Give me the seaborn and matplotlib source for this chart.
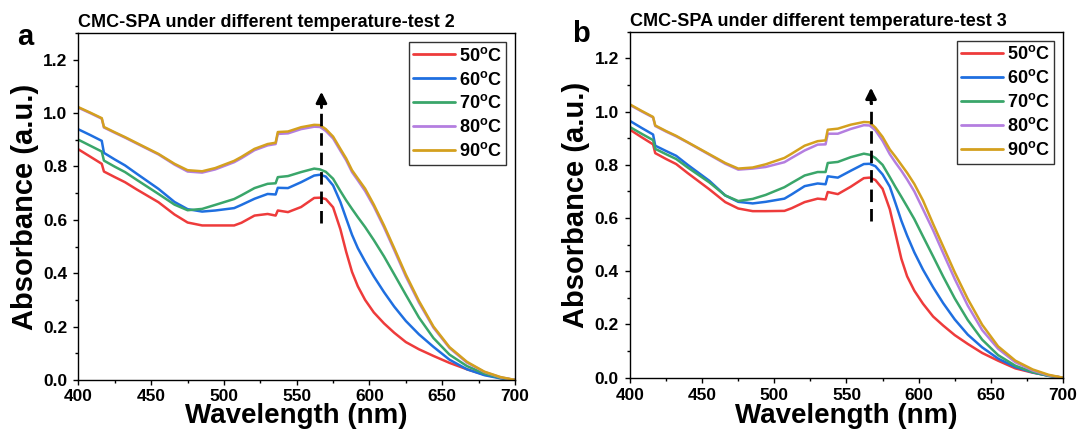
import numpy as np
import pandas as pd
import matplotlib
matplotlib.use("Agg")
import matplotlib.pyplot as plt
from matplotlib.ticker import MultipleLocator
import seaborn as sns

# ---------------- data ----------------
temps = ["50", "60", "70", "80", "90"]
colors = ["#EE3B3B", "#1F6FE0", "#3AA66A", "#B47EE0", "#D4A01E"]

wavelength = [400, 408, 416, 417.5, 425, 432, 440, 455, 466, 475, 485, 494, 507, 512, 521, 530, 535.5, 537,
              544, 553, 562, 566, 570, 575, 580, 584, 588, 592, 597, 603, 610, 617, 625, 634, 644, 655, 667,
              679, 690, 700]

# Panel a (test 2)
a50 = [.864, .837, .810, .781, .760, .741, .714, .666, .620, .590, .579, .579, .579, .589, .616, .622, .616,
       .635, .629, .648, .682, .683, .678, .647, .565, .480, .405, .351, .300, .253, .212, .177, .142, .115,
       .090, .064, .040, .020, .008, 0.0]
a60 = [.939, .918, .896, .851, .826, .804, .773, .716, .667, .640, .631, .635, .644, .656, .679, .697, .695,
       .720, .719, .741, .766, .769, .762, .729, .667, .605, .544, .494, .444, .388, .329, .275, .221, .171,
       .124, .076, .040, .018, .006, 0.0]
a70 = [.900, .878, .856, .822, .799, .779, .750, .697, .657, .636, .641, .656, .678, .692, .719, .735, .737,
       .760, .764, .779, .792, .789, .780, .754, .708, .673, .641, .610, .573, .524, .463, .396, .319, .234,
       .157, .095, .052, .024, .008, 0.0]
a80 = [1.020, 1.000, .979, .946, .926, .908, .886, .845, .807, .781, .777, .789, .816, .831, .861, .879, .884,
       .922, .924, .940, .949, .948, .933, .905, .859, .823, .779, .748, .708, .650, .572, .487, .388, .290,
       .196, .120, .065, .030, .010, 0.0]
a90 = [1.022, 1.002, .981, .948, .928, .910, .888, .847, .810, .786, .782, .794, .821, .836, .866, .884, .889,
       .929, .931, .947, .956, .955, .940, .912, .866, .830, .786, .755, .717, .657, .579, .494, .395, .296,
       .200, .123, .068, .031, .011, 0.0]

# Panel b (test 3)
b50 = [.932, .904, .877, .844, .822, .803, .769, .708, .660, .636, .626, .626, .627, .637, .660, .673, .670,
       .698, .690, .718, .750, .752, .743, .710, .633, .540, .447, .381, .327, .278, .230, .196, .160, .127,
       .093, .064, .035, .019, .008, 0.0]
b60 = [.965, .939, .914, .872, .852, .834, .800, .740, .685, .661, .655, .661, .673, .689, .720, .730, .727,
       .757, .752, .778, .803, .804, .795, .764, .718, .655, .590, .534, .471, .406, .340, .280, .219, .162,
       .114, .072, .040, .020, .007, 0.0]
b70 = [.942, .917, .893, .860, .840, .822, .790, .734, .685, .664, .672, .687, .716, .732, .760, .773, .773,
       .807, .811, .829, .842, .838, .826, .800, .754, .716, .680, .643, .596, .531, .456, .380, .298, .217,
       .143, .085, .045, .021, .007, 0.0]
b80 = [1.025, 1.001, .978, .946, .925, .907, .884, .838, .804, .782, .786, .792, .810, .826, .854, .876, .877,
       .917, .917, .935, .949, .948, .930, .890, .840, .808, .778, .745, .700, .633, .554, .468, .371, .271,
       .179, .109, .058, .027, .009, 0.0]
b90 = [1.027, 1.003, .980, .948, .927, .909, .885, .840, .807, .786, .790, .802, .826, .842, .872, .889, .892,
       .932, .936, .951, .961, .960, .940, .905, .858, .830, .800, .770, .728, .666, .578, .493, .396, .296,
       .199, .118, .064, .031, .011, 0.0]

titles = ["CMC-SPA under different temperature-test 2", "CMC-SPA under different temperature-test 3"]
letters = ["a", "b"]
xticks = [400, 450, 500, 550, 600, 650, 700]
yticks = [0.0, 0.2, 0.4, 0.6, 0.8, 1.0, 1.2]
arrow_x = 567
arrow_bottom = 0.59
arrow_tops = [1.08, 1.09]

# ---------------- style ----------------
sns.set_style("ticks")
plt.rcParams["font.family"] = ["Liberation Sans", "DejaVu Sans"]
plt.rcParams["font.weight"] = "bold"
plt.rcParams["text.color"] = "black"
plt.rcParams["axes.labelcolor"] = "black"
plt.rcParams["xtick.color"] = "black"
plt.rcParams["ytick.color"] = "black"
plt.rcParams["axes.edgecolor"] = "black"
plt.rcParams["mathtext.fontset"] = "custom"
plt.rcParams["mathtext.rm"] = "Liberation Sans:bold"
plt.rcParams["mathtext.bf"] = "Liberation Sans:bold"
plt.rcParams["mathtext.default"] = "bf"

labels = [t + r"$^{\mathbf{o}}$C" for t in temps]


def long_df(wl, series):
    rows = []
    for lab, ys in zip(labels, series):
        for w, y in zip(wl, ys):
            rows.append({"wl": w, "abs": y, "T": lab})
    return pd.DataFrame(rows)


fig = plt.figure(figsize=(10.78, 4.34), dpi=100)
axA = fig.add_axes([0.0728, 0.1245, 0.4049, 0.7994])
axB = fig.add_axes([0.5844, 0.1297, 0.4017, 0.7970])

panels = [(axA, [a50, a60, a70, a80, a90], (-0.141, 0.989), 3.2, -1.0),
          (axB, [b50, b60, b70, b80, b90], (-0.133, 0.993), 3.6, 0.0)]
for i, (ax, series, letter_pos, tpad, xpad) in enumerate(panels):
    df = long_df(wavelength, series)
    sns.lineplot(data=df, x="wl", y="abs", hue="T", hue_order=labels,
                 palette=dict(zip(labels, colors)), linewidth=1.8, ax=ax, sort=True)
    ax.set_xlim(400, 700)
    ax.set_ylim(0, 1.3)
    ax.set_xticks(xticks)
    ax.set_yticks(yticks)
    ax.set_xticklabels([str(v) for v in xticks], fontsize=12.5, fontweight="bold", color="black")
    ax.set_yticklabels([f"{v:.1f}" for v in yticks], fontsize=12.5, fontweight="bold", color="black")
    ax.xaxis.set_minor_locator(MultipleLocator(25))
    ax.yaxis.set_minor_locator(MultipleLocator(0.1))
    ax.tick_params(axis="both", which="major", direction="out", length=3.5, width=1, colors="black")
    ax.tick_params(axis="x", which="major", pad=tpad)
    ax.tick_params(axis="y", which="major", pad=4.5)
    ax.tick_params(axis="both", which="minor", direction="out", length=2.2, width=1, colors="black")
    ax.tick_params(top=False, right=False, which="both")
    for s in ax.spines.values():
        s.set_visible(True)
        s.set_linewidth(1.0)
        s.set_color("black")
    ax.set_xlabel("Wavelength (nm)", fontsize=20, fontweight="bold", labelpad=xpad, color="black")
    ax.set_ylabel("Absorbance (a.u.)", fontsize=21, fontweight="bold", labelpad=3, color="black")
    ax.set_title(titles[i], fontsize=13, fontweight="bold", loc="left", pad=4, color="black")
    ax.text(letter_pos[0], letter_pos[1], letters[i], transform=ax.transAxes, fontsize=21,
            fontweight="bold", ha="left", va="center", color="black")
    # dashed arrow
    ax.plot([arrow_x, arrow_x], [arrow_bottom, arrow_tops[i] - 0.05], color="black", lw=2,
            ls=(0, (4.5, 2.5)), zorder=5)
    ax.annotate("", xy=(arrow_x, arrow_tops[i]), xytext=(arrow_x, arrow_tops[i] - 0.06),
                arrowprops=dict(arrowstyle="-|>", color="black", lw=2, mutation_scale=16,
                                shrinkA=0, shrinkB=0), zorder=6)
    leg = ax.legend(loc="upper right", frameon=True, fancybox=False, edgecolor="black",
                    fontsize=13, handlelength=2.3, handletextpad=0.2, labelspacing=0.33,
                    borderpad=0.25, borderaxespad=0.5, title=None)
    leg.get_frame().set_linewidth(1.0)
    for line in leg.get_lines():
        line.set_linewidth(2)
    for txt in leg.get_texts():
        txt.set_fontweight("bold")
        txt.set_color("black")

fig.savefig("out.png", dpi=100)
